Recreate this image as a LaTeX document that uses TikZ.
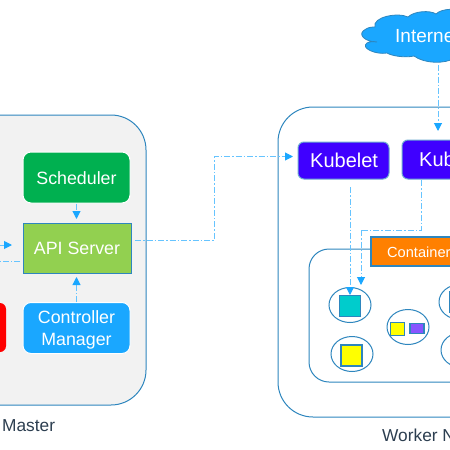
\documentclass[tikz,border=0pt]{standalone}
\usepackage{fontspec}
\setmainfont{Liberation Sans}
\usetikzlibrary{arrows.meta,shapes.geometric}
\definecolor{edgeblue}{HTML}{2E86BE}
\definecolor{linkblue}{HTML}{1AA7FF}
\definecolor{linkline}{HTML}{66C4FF}
\definecolor{panelgray}{HTML}{F2F2F2}
\definecolor{labelink}{HTML}{2C3E50}
\definecolor{kubeindigo}{HTML}{3F00FF}
\definecolor{podteal}{HTML}{00CCCC}
\definecolor{podviolet}{HTML}{8855FF}
\definecolor{podyellow}{HTML}{FFFF00}
\definecolor{schedgreen}{HTML}{00B050}
\definecolor{apigreen}{HTML}{92D050}
\definecolor{contorange}{HTML}{FF8000}
\newcommand{\lowered}[1]{\raisebox{-6.5pt}[0pt][0pt]{#1}}
\tikzset{
  panel/.style={draw=edgeblue,line width=1pt},
  comp/.style={rounded corners=8pt,draw=white,line width=1pt,text=white,font=\fontsize{17.8}{22}\selectfont,align=center,inner sep=0pt,minimum width=107pt,minimum height=51pt},
  sqbox/.style={draw=edgeblue,line width=1.2pt,inner sep=0pt},
  kubebox/.style={rounded corners=6pt,draw=edgeblue!70,line width=1pt,fill=kubeindigo,inner sep=0pt},
  podring/.style={draw=edgeblue,line width=1pt,ellipse,inner sep=0pt,minimum width=42pt,minimum height=35pt},
  plainlink/.style={draw=linkline,line width=1pt,dash pattern=on 6pt off 2pt on 1.5pt off 2pt},
  link/.style={plainlink,-{Triangle[length=8pt,width=8pt,fill=linkblue,color=linkblue]}},
  wlabel/.style={text=white,font=\fontsize{20}{24}\selectfont,inner sep=0pt,anchor=base west},
  dlabel/.style={text=labelink,font=\fontsize{17.3}{20}\selectfont,inner sep=0pt,anchor=base west},
}
\begin{document}
\begin{tikzpicture}[x=1pt,y=-1pt]
\useasboundingbox (0,0) rectangle (450,450);
\clip (0,0) rectangle (450,450);
% master
\draw[panel,fill=panelgray,rounded corners=35pt] (-60,115) rectangle (146,405);
\node[comp,fill=schedgreen] (sched) at (76.5,177.5) {\lowered{Scheduler}};
\node[draw=edgeblue,line width=1pt,fill=apigreen,text=white,font=\fontsize{17.8}{22}\selectfont,minimum width=108pt,minimum height=50pt,inner sep=0pt] (api) at (77,248) {API Server};
\node[comp,fill=linkblue] (ctrl) at (76.5,328) {\lowered{Controller}\\\lowered{Manager}};
\node[rounded corners=6pt,fill=red,minimum width=40pt,minimum height=49pt,inner sep=0pt] (redbox) at (-14,327.5) {};
\coordinate (lin) at (0,245);
\coordinate (linend) at (12,245);
\coordinate (lout) at (0,261.5);
\coordinate (loutend) at (20,261.5);
\draw[link] (sched.south) -- (76.5,219);
\draw[link] (ctrl.north) -- (76.5,277);
\draw[link] (lin) -- (linend);
\draw[plainlink] (loutend) -- (lout);
\node[dlabel] (mlabel) at (2,431.5) {Master};
% worker
\draw[panel,fill=white,rounded corners=35pt] (278,107) rectangle (520,417);
\node[dlabel] (wlabel) at (382,441.5) {Worker N};
\draw[panel,fill=white,rounded corners=20pt] (309,249) rectangle (520,382);
\node[fill=contorange,draw=edgeblue,line width=1.2pt,minimum width=110pt,minimum height=29pt,inner sep=0pt] (cont) at (426,251.5) {};
\node[wlabel,font=\fontsize{14.6}{17}\selectfont] (conttext) at (387,257) {Container};
\node[kubebox,minimum width=91pt,minimum height=37pt] (kubelet) at (343.5,160.5) {};
\node[wlabel] (kubelettext) at (310,167) {Kubelet};
\node[kubebox,minimum width=90pt,minimum height=39pt] (proxy) at (447,159.5) {};
\node[wlabel] (proxytext) at (419,166) {Kub};
% pods
\node[podring] (p1) at (350,305) {};
\node[sqbox,fill=podteal,minimum size=21pt] (s1) at (350,306) {};
\node[podring] (p2) at (352,354) {};
\node[sqbox,fill=podyellow,minimum size=21pt] (s2) at (351.5,355.5) {};
\node[podring] (p3) at (408,327) {};
\node[sqbox,fill=podyellow,minimum width=14pt,minimum height=13pt] (s3) at (397.5,329) {};
\node[sqbox,fill=podviolet,minimum width=14pt,minimum height=10.5pt] (s4) at (417,328.5) {};
\node[podring] (p4) at (460,302) {};
\node[sqbox,fill=podteal,minimum size=21pt] (s5) at (460,302) {};
\node[podring] (p5) at (462,350) {};
\node[sqbox,fill=podyellow,minimum size=21pt] (s6) at (462,350) {};
% cloud
\path[draw=edgeblue,line width=.8pt,fill=linkblue] (377,42)
  .. controls (365,42) and (356,34) .. (366,29)
  .. controls (369,27) and (373,27) .. (375,27)
  .. controls (372,17) and (398,12) .. (408,17)
  .. controls (414,11) and (430,10) .. (436,14)
  .. controls (442,8) and (458,8) .. (470,12)
  -- (470,58) -- (455,58)
  .. controls (445,64) and (425,64) .. (414,56)
  .. controls (405,58) and (392,56) .. (387,53)
  .. controls (376,55) and (360,48) .. (367,43)
  .. controls (369,42) and (373,41) .. (377,42) -- cycle;
\node[wlabel,font=\fontsize{19}{22}\selectfont] (nettext) at (395,42) {Interne};
\coordinate (cloudb) at (438,65);
% links
\coordinate (bend1) at (214,240);
\coordinate (bend2) at (214,156.5);
\draw[link] (135,240) -- (bend1) -- (bend2) -- (293,156.5);
\draw[link] (cloudb) -- (438,131);
\draw[link] (350,187) -- (350,295);
\draw[plainlink] (421,180) -- (421,230) -- (361,230);
\draw[link] (361,230) -- (361,285);
\end{tikzpicture}
\end{document}
